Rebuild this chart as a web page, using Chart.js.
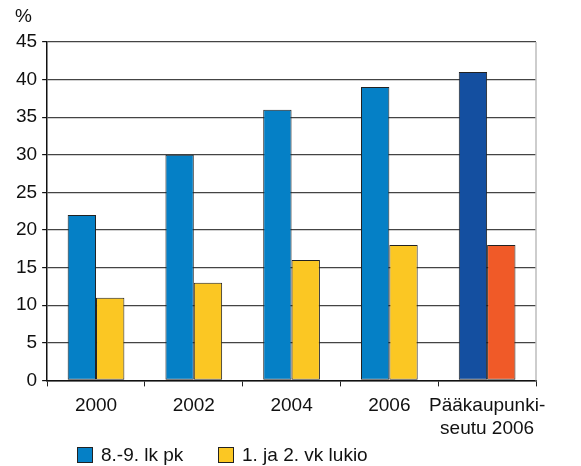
<!DOCTYPE html>
<html>
<head>
<meta charset="utf-8">
<script src="https://cdn.jsdelivr.net/npm/chart.js@4/dist/chart.umd.min.js"></script>
<style>
html,body{margin:0;padding:0;background:#fff;}
#wrap{width:581px;height:466px;position:relative;}
</style>
</head>
<body>
<div id="wrap"><canvas id="c" width="581" height="466"></canvas></div>
<script>
const categories = ['2000', '2002', '2004', '2006', ['Pääkaupunki-', 'seutu 2006']];
const seriesNames = ['8.-9. lk pk', '1. ja 2. vk lukio'];
const peruskoulu = [22, 30, 36, 39, 41];
const lukio = [11, 13, 16, 18, 18];
const yTicks = [0, 5, 10, 15, 20, 25, 30, 35, 40, 45];
const unitLabel = '%';

const blue = '#0580C6', darkBlue = '#144FA0', yellow = '#FBC723', orange = '#F05A28';
const FONT = 'Arial, "Liberation Sans", sans-serif';

const extras = {
  id: 'extras',
  afterDraw(chart) {
    const ctx = chart.ctx, a = chart.chartArea;
    ctx.save();
    ctx.strokeStyle = '#bdbdbd';
    ctx.lineWidth = 1.5;
    ctx.beginPath();
    ctx.moveTo(a.right, a.top);
    ctx.lineTo(a.right, a.bottom);
    ctx.stroke();
    ctx.fillStyle = '#111';
    ctx.font = '19px ' + FONT;
    ctx.textAlign = 'left';
    ctx.textBaseline = 'middle';
    ctx.fillText(unitLabel, 15, 17);
    const items = [[77, blue, seriesNames[0]], [218, yellow, seriesNames[1]]];
    items.forEach(([x, col, txt]) => {
      ctx.fillStyle = col;
      ctx.fillRect(x, 447, 16, 16);
      ctx.strokeStyle = '#222';
      ctx.lineWidth = 1;
      ctx.strokeRect(x + 0.5, 447.5, 15, 15);
      ctx.fillStyle = '#111';
      ctx.fillText(txt, x + 24, 456);
    });
    ctx.restore();
  }
};

new Chart(document.getElementById('c'), {
  type: 'bar',
  data: {
    labels: categories,
    datasets: [
      { label: seriesNames[0], data: peruskoulu,
        backgroundColor: [blue, blue, blue, blue, darkBlue],
        borderColor: '#222', borderWidth: 1, borderSkipped: false },
      { label: seriesNames[1], data: lukio,
        backgroundColor: [yellow, yellow, yellow, yellow, orange],
        borderColor: '#222', borderWidth: 1, borderSkipped: false }
    ]
  },
  options: {
    responsive: false,
    animation: false,
    devicePixelRatio: 1,
    layout: { padding: { left: 11, right: 45, top: 42, bottom: 18 } },
    datasets: { bar: { categoryPercentage: 0.58, barPercentage: 1.0 } },
    plugins: { legend: { display: false }, tooltip: { enabled: false } },
    scales: {
      x: {
        grid: { display: true, offset: true, drawOnChartArea: false, drawTicks: true, tickLength: 6, color: '#222', lineWidth: 1 },
        border: { display: true, color: '#111', width: 1.5 },
        ticks: { color: '#111', font: { family: FONT, size: 19 }, padding: 8, maxRotation: 0, autoSkip: false }
      },
      y: {
        min: 0, max: 45,
        afterBuildTicks(axis) { axis.ticks = yTicks.map(v => ({ value: v })); },
        grid: { color: '#444', lineWidth: 1.2, drawTicks: true, tickLength: 5, tickColor: '#111' },
        border: { display: true, color: '#111', width: 1.5 },
        ticks: { color: '#111', font: { family: FONT, size: 19 }, padding: 5 }
      }
    }
  },
  plugins: [extras]
});
</script>
</body>
</html>
